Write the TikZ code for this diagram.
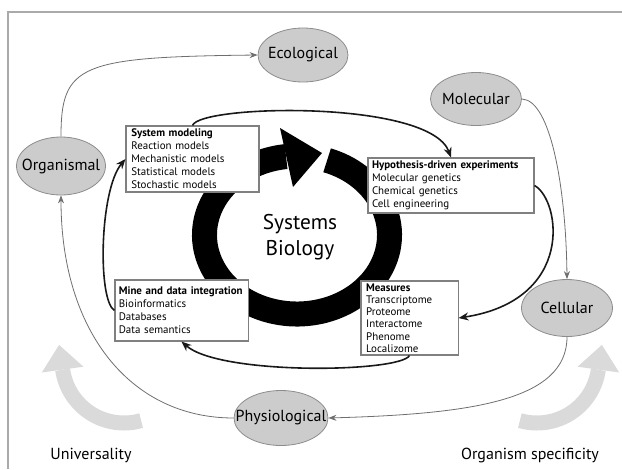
\documentclass[tikz,border=0pt]{standalone}
\usepackage{fontspec}
\setmainfont{PT Sans}
\usetikzlibrary{arrows.meta,shapes.geometric}

\definecolor{levelfill}{RGB}{204,204,204}
\definecolor{levelline}{RGB}{140,140,140}
\definecolor{outerline}{RGB}{110,110,110}
\definecolor{innerline}{RGB}{25,25,25}
\definecolor{boxline}{RGB}{128,128,128}
\definecolor{bigfill}{RGB}{218,218,218}
\definecolor{frameline}{RGB}{170,170,170}

\newcommand{\levelname}[1]{\makebox[0pt]{#1}}

\tikzset{every picture/.style={line width=0.75pt}}
\tikzset{
  level/.style={ellipse, draw=levelline, fill=levelfill, line width=0.6pt, inner sep=0pt, font=\fontsize{12}{14}\selectfont},
  infobox/.style={draw=boxline, fill=white, line width=0.8pt, align=left, inner ysep=1pt, font=\fontsize{8.2}{9.75}\selectfont},
  outerlink/.style={draw=outerline, line width=0.6pt, -{Stealth[length=6pt,width=4.5pt]}},
  innerlink/.style={draw=innerline, line width=1.2pt, -{Stealth[length=7.5pt,width=6pt]}},
  ring/.style={draw=black, line width=18.75pt},
  bigband/.style={draw=bigfill, line width=11.25pt},
  caption/.style={font=\fontsize{12}{14}\selectfont}
}

\begin{document}
\begin{tikzpicture}[x=0.75pt,y=0.75pt,yscale=-1]
\useasboundingbox (0,0) rectangle (622,469);

%frame
\draw [frameline, line width=1.1pt] (8,469) -- (8,12) -- (622,12);

%big grey arrows
\draw [bigband] (141.1,420.6) arc[start angle=74, end angle=172, radius=62];
\fill [bigfill] (41.8,372.5) -- (59.1,344.9) -- (83.4,366.7) -- cycle;
\draw [bigband] (519.9,420.6) arc[start angle=106, end angle=8, radius=62];
\fill [bigfill] (619.2,372.5) -- (601.9,344.9) -- (577.6,366.7) -- cycle;

%central cycle
\coordinate (sb) at (297,235);
\draw [ring] ([shift={(-71:92.5 and 79)}]sb) arc[start angle=-71, end angle=263.2, x radius=92.5, y radius=79];
\fill [black] (280,128) -- (322,153) -- (293,187) -- cycle;
\node [font=\fontsize{16}{20}\selectfont, align=center] (sblabel) at (300,237) {Systems\\Biology};

%levels
\node [level, minimum width=67.5pt, minimum height=40.5pt] (eco) at (303,55) {\levelname{Ecological}};
\node [level, minimum width=68.25pt, minimum height=39.75pt] (mol) at (476,99) {\levelname{Molecular}};
\node [level, minimum width=66.75pt, minimum height=43.5pt] (org) at (61,166) {\levelname{Organismal}};
\node [level, minimum width=68.25pt, minimum height=42.75pt] (cel) at (567,308) {\levelname{Cellular}};
\node [level, minimum width=70.5pt, minimum height=41.25pt] (phy) at (281,418) {\levelname{Physiological}};

%boxes
\node [infobox, inner xsep=4pt, text width=91.75pt, minimum height=49.5pt] (sysmod) at (192.5,159) {\textbf{System modeling}\\Reaction models\\Mechanistic models\\Statistical models\\Stochastic models};
\node [infobox, inner xsep=3pt, text width=118.5pt, minimum height=41.25pt] (hyp) at (451,185.5) {\textbf{Hypothesis-driven experiments}\\Molecular genetics\\Chemical genetics\\Cell engineering};
\node [infobox, inner xsep=2.9pt, text width=94pt, minimum height=45.75pt] (mine) at (181.5,310.5) {\textbf{Mine and data integration}\\Bioinformatics\\Databases\\Data semantics};
\node [infobox, inner xsep=3.9pt, text width=65pt, minimum height=55.5pt, font=\fontsize{8.2}{9.2}\selectfont] (meas) at (409.5,318) {\textbf{Measures}\\Transcriptome\\Proteome\\Interactome\\Phenome\\Localizome};

%outer links
\draw [outerlink] (org.north) .. controls +(0,-72) and +(-178,2) .. (eco.west);
\draw [outerlink] (mol.east) .. controls +(29,1) and +(-1,-90) .. (cel.north);
\draw [outerlink] (cel.south) .. controls +(0,64) and +(142,-4) .. (phy.east);
\draw [outerlink] (phy.west) .. controls +(-104,0) and +(0,135) .. (org.south);

%inner links
\draw [innerlink] (sysmod.north) .. controls +(7.5,-21) and +(-21,-58) .. (hyp.north);
\draw [innerlink] (hyp.east) .. controls +(26,14.5) and +(117,-18) .. (meas.east);
\draw [innerlink] (meas.south) .. controls +(-9.5,17) and +(38.5,34) .. (mine.south);
\draw [innerlink] (mine.west) .. controls +(-17,-10.5) and +(-26,31) .. (sysmod.west);

%captions
\node [caption] (univ) at (91,455) {Universality};
\node [caption] (spec) at (530,455) {Organism specificity};

\end{tikzpicture}
\end{document}
